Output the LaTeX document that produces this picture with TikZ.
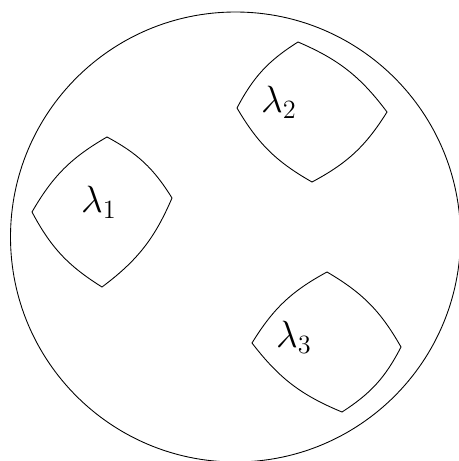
\documentclass[tikz,border=0pt]{standalone}
\usepackage{amsmath}

\tikzset{
    hole/.style={line join=miter},
    holelabel/.style={font=\LARGE}
}

\begin{document}
\begin{tikzpicture}[x=0.016cm, y=-0.016cm]
    \useasboundingbox (0,0) rectangle (458,461);

    % outer disc
    \draw (235.5,237) circle[radius=225];

    % three holes
    \draw[hole] (107,137) to[bend left=15] (172,198) to[bend left=15] (102,287)
        to[bend left=15] (32,212) to[bend left=15] cycle;
    \draw[hole] (298,42) to[bend left=15] (387,112) to[bend left=15] (312,182)
        to[bend left=15] (237,108) to[bend left=15] cycle;
    \draw[hole] (327,272) to[bend left=15] (401,347) to[bend left=15] (342,412)
        to[bend left=15] (252,343) to[bend left=15] cycle;

    \node[holelabel] (lambda1) at (99,202) {\(\lambda_1\)};
    \node[holelabel] (lambda2) at (279,102) {\(\lambda_2\)};
    \node[holelabel] (lambda3) at (294,337) {\(\lambda_3\)};
\end{tikzpicture}
\end{document}
